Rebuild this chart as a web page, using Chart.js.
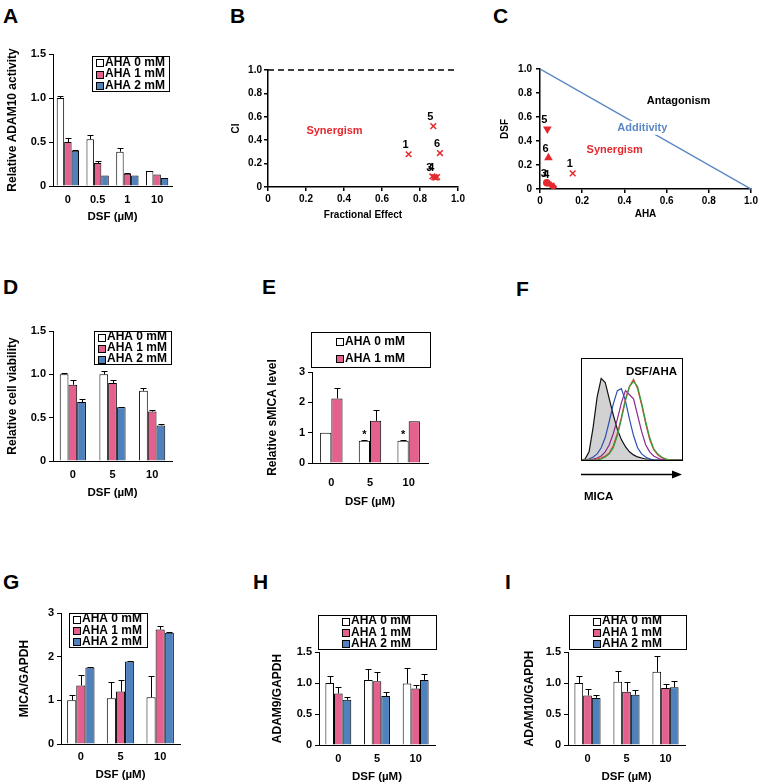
<!DOCTYPE html>
<html>
<head>
<meta charset="utf-8">
<script src="https://cdn.jsdelivr.net/npm/chart.js@4.4.1/dist/chart.umd.min.js"></script>
<style>
body { margin: 0; background: #fff; width: 760px; height: 784px; position: relative; overflow: hidden; }
canvas { position: absolute; }
.tag { position: absolute; font: bold 21px Arial, "Liberation Sans", sans-serif; line-height: 1; color: #000; }
</style>
</head>
<body>
<div class="tag" style="left:3px;top:5px">A</div>
<div class="tag" style="left:230px;top:5px">B</div>
<div class="tag" style="left:493px;top:5px">C</div>
<div class="tag" style="left:3px;top:276px">D</div>
<div class="tag" style="left:262px;top:276px">E</div>
<div class="tag" style="left:516px;top:278px">F</div>
<div class="tag" style="left:3px;top:571px">G</div>
<div class="tag" style="left:253px;top:571px">H</div>
<div class="tag" style="left:505px;top:571px">I</div>
<script>
// ---- data ----
const ahaLabels = ["AHA 0 mM", "AHA 1 mM", "AHA 2 mM"];

// A: ADAM10 activity
const dsfA = ["0", "0.5", "1", "10"];
const actAha0 = [1.0, 0.53, 0.39, 0.17];
const actAha0Err = [0.02, 0.05, 0.04, 0];
const actAha1 = [0.50, 0.26, 0.14, 0.13];
const actAha1Err = [0.05, 0.02, 0.01, 0];
const actAha2 = [0.40, 0.12, 0.12, 0.09];
const actAha2Err = [0.01, 0, 0, 0];

// B: combination index vs fractional effect
const ciFa = [0.74, 0.87, 0.905, 0.865, 0.875, 0.882, 0.89];
const ciVal = [0.28, 0.52, 0.29, 0.09, 0.085, 0.08, 0.085];
const ciTags = ["1", "5", "6", "3", "4", "", ""];
const ciRefX = [0, 1];
const ciRefY = [1, 1];

// C: isobologram
const isoAha = [0.155, 0.035, 0.04, 0.032, 0.044, 0.057, 0.063];
const isoDsf = [0.13, 0.50, 0.26, 0.053, 0.042, 0.031, 0.019];
const isoTags = ["1", "5", "6", "3", "4", "", ""];
const isoLineX = [0, 1];
const isoLineY = [1, 0];

// D: cell viability
const dsfD = ["0", "5", "10"];
const viaAha0 = [1.0, 1.0, 0.81];
const viaAha0Err = [0.01, 0.04, 0.03];
const viaAha1 = [0.88, 0.90, 0.57];
const viaAha1Err = [0.06, 0.04, 0.02];
const viaAha2 = [0.68, 0.62, 0.41];
const viaAha2Err = [0.03, 0.005, 0.02];

// E: soluble MICA
const smicaAha0 = [1.0, 0.73, 0.73];
const smicaAha0Err = [0, 0.03, 0.02];
const smicaAha0Marks = ["", "*", "*"];
const smicaAha1 = [2.13, 1.39, 1.38];
const smicaAha1Err = [0.33, 0.37, 0];

// F: flow histograms (MICA fluorescence, % of max)
const flowBins = [0, 4, 8, 12, 16, 20, 24, 28, 32, 36, 40, 44, 48, 52, 56, 60, 64, 68, 72, 76, 80, 84, 88, 92, 96, 100];
const histGray = [0, 1, 8, 32, 62, 80, 76, 60, 44, 30, 20, 13, 8, 5, 3, 2, 1, 1, 0, 0, 0, 0, 0, 0, 0, 0];
const histBlue = [0, 0, 1, 3, 6, 12, 22, 38, 55, 68, 70, 58, 40, 24, 12, 6, 3, 1, 0, 0, 0, 0, 0, 0, 0, 0];
const histPurple = [0, 0, 0, 1, 2, 4, 8, 15, 26, 40, 56, 68, 64, 60, 44, 28, 15, 8, 4, 2, 0, 0, 0, 0, 0, 0];
const histRed = [0, 0, 0, 0, 1, 2, 4, 7, 14, 26, 42, 60, 72, 79, 70, 54, 36, 20, 10, 5, 2, 1, 0, 0, 0, 0];
const histGreen = [0, 0, 0, 0, 0, 1, 3, 6, 12, 24, 40, 58, 72, 77, 72, 56, 38, 22, 11, 6, 3, 1, 0, 0, 0, 0];

// G/H/I: qPCR
const dsfQ = ["0", "5", "10"];
const micaAha0 = [1.0, 1.05, 1.07];
const micaAha0Err = [0.12, 0.37, 0.48];
const micaAha1 = [1.34, 1.20, 2.62];
const micaAha1Err = [0.23, 0.26, 0.09];
const micaAha2 = [1.75, 1.89, 2.55];
const micaAha2Err = [0.01, 0.005, 0.005];

const adam9Aha0 = [1.0, 1.05, 0.99];
const adam9Aha0Err = [0.12, 0.18, 0.25];
const adam9Aha1 = [0.83, 1.03, 0.91];
const adam9Aha1Err = [0.10, 0.15, 0.05];
const adam9Aha2 = [0.73, 0.79, 1.05];
const adam9Aha2Err = [0.05, 0.07, 0.09];

const adam10Aha0 = [1.0, 1.02, 1.18];
const adam10Aha0Err = [0.12, 0.18, 0.25];
const adam10Aha1 = [0.80, 0.86, 0.92];
const adam10Aha1Err = [0.11, 0.15, 0.06];
const adam10Aha2 = [0.76, 0.81, 0.93];
const adam10Aha2Err = [0.05, 0.08, 0.10];

// ---- styling ----
const FONT = 'Arial, "Liberation Sans", sans-serif';
const PINK = "#e3608f";
const BLUE = "#4f81bd";
const RED = "#e5282e";
const barColors = ["#ffffff", PINK, BLUE];

Chart.defaults.font.family = FONT;
Chart.defaults.font.weight = "bold";
Chart.defaults.font.size = 11;
Chart.defaults.color = "#000";
Chart.defaults.animation = false;
Chart.defaults.responsive = false;
Chart.defaults.plugins.legend.display = false;
Chart.defaults.plugins.tooltip.enabled = false;

function cvs(left, top, w, h) {
    const c = document.createElement("canvas");
    c.width = w;
    c.height = h;
    c.style.left = left + "px";
    c.style.top = top + "px";
    document.body.appendChild(c);
    return c;
}

// upper error bars + significance marks
const errorBars = {
    id: "errorBars",
    afterDatasetsDraw(chart) {
        const ctx = chart.ctx;
        const y = chart.scales.y;
        chart.data.datasets.forEach((ds, i) => {
            chart.getDatasetMeta(i).data.forEach((bar, j) => {
                const x = Math.round(bar.x) + 0.5;
                const e = ds.errors ? ds.errors[j] : 0;
                const top = y.getPixelForValue(ds.data[j] + (e || 0));
                ctx.save();
                ctx.strokeStyle = "#000";
                ctx.lineWidth = 1;
                if (e) {
                    ctx.beginPath();
                    ctx.moveTo(x, bar.y);
                    ctx.lineTo(x, Math.round(top) + 0.5);
                    ctx.moveTo(x - 3, Math.round(top) + 0.5);
                    ctx.lineTo(x + 3, Math.round(top) + 0.5);
                    ctx.stroke();
                }
                if (ds.marks && ds.marks[j]) {
                    ctx.fillStyle = "#000";
                    ctx.font = "bold 11px " + FONT;
                    ctx.textAlign = "center";
                    ctx.textBaseline = "middle";
                    ctx.fillText(ds.marks[j], bar.x, top - 5);
                }
                ctx.restore();
            });
        });
    }
};

// framed legend like the spreadsheet ones
const boxLegend = {
    id: "boxLegend",
    afterDraw(chart, args, o) {
        if (!o.w) return;
        const ctx = chart.ctx;
        const ds = chart.data.datasets;
        ctx.save();
        ctx.fillStyle = "#fff";
        ctx.fillRect(o.x, o.y, o.w, o.h);
        ctx.strokeStyle = "#000";
        ctx.lineWidth = 1;
        ctx.strokeRect(o.x + 0.5, o.y + 0.5, o.w, o.h);
        ctx.font = "bold 12px " + FONT;
        ctx.textBaseline = "middle";
        const rowH = o.h / ds.length;
        ds.forEach((d, i) => {
            const tw = ctx.measureText(d.label).width;
            const itemW = 7 + 2 + tw;
            const x0 = Math.round(o.x + (o.w - itemW) / 2);
            const cy = o.y + rowH * (i + 0.5) + 0.5;
            ctx.fillStyle = d.backgroundColor;
            ctx.fillRect(x0 + 0.5, Math.round(cy - 3.5) + 0.5, 7, 7);
            ctx.strokeRect(x0 + 0.5, Math.round(cy - 3.5) + 0.5, 7, 7);
            ctx.fillStyle = "#000";
            ctx.fillText(d.label, x0 + 9, cy);
        });
        ctx.restore();
    }
};

// point numbers in B and C
const pointTags = {
    id: "pointTags",
    afterDatasetsDraw(chart) {
        const ctx = chart.ctx;
        chart.data.datasets.forEach((ds, i) => {
            if (!ds.tags) return;
            ctx.save();
            ctx.font = "bold 11px " + FONT;
            ctx.fillStyle = "#000";
            ctx.textAlign = "center";
            ctx.textBaseline = "middle";
            chart.getDatasetMeta(i).data.forEach((pt, j) => {
                if (ds.tags[j]) ctx.fillText(ds.tags[j], pt.x - 3, pt.y - 9);
            });
            ctx.restore();
        });
    }
};

// free text placed in data units
const notes = {
    id: "notes",
    afterDatasetsDraw(chart, args, o) {
        if (!o.items) return;
        const { ctx, scales } = chart;
        ctx.save();
        ctx.font = "bold 11px " + FONT;
        ctx.textAlign = "center";
        ctx.textBaseline = "middle";
        o.items.forEach(n => {
            const px = scales.x.getPixelForValue(n.x);
            const py = scales.y.getPixelForValue(n.y);
            if (n.knockout) {
                const w = ctx.measureText(n.text).width;
                ctx.fillStyle = "#fff";
                ctx.fillRect(px - w / 2 - 3, py - 7, w + 6, 14);
            }
            ctx.fillStyle = n.color;
            ctx.fillText(n.text, px, py);
        });
        ctx.restore();
    }
};

function series(data, errs, marks) {
    return { data, errs, marks };
}

function barPanel(c, o) {
    return new Chart(c, {
        type: "bar",
        data: {
            labels: o.labels,
            datasets: o.series.map((s, i) => ({
                label: ahaLabels[i],
                data: s.data,
                errors: s.errs,
                marks: s.marks,
                backgroundColor: barColors[i],
                borderColor: "#000",
                borderWidth: 1,
                categoryPercentage: o.groupW,
                barPercentage: 1
            }))
        },
        options: {
            layout: { padding: { top: o.padTop, right: o.padRight, left: 0, bottom: 0 } },
            scales: {
                x: {
                    grid: { display: false, drawTicks: false, tickLength: 0 },
                    border: { color: "#000" },
                    ticks: { padding: o.xTickPad, font: { size: 11 } },
                    title: { display: true, text: "DSF (µM)", font: { size: 11.5 }, padding: { top: 0, bottom: o.xTitlePad } },
                    afterFit: s => { s.height = o.xH; }
                },
                y: {
                    min: 0,
                    max: o.yMax,
                    ticks: { stepSize: o.step, padding: 3, font: { size: 11 } },
                    grid: { drawOnChartArea: false, color: "#000", tickLength: 4 },
                    border: { color: "#000" },
                    title: { display: true, text: o.yTitle, font: { size: 12 }, padding: { top: o.yTitlePad, bottom: 0 } },
                    afterFit: s => { s.width = o.yW; }
                }
            },
            plugins: { boxLegend: o.legend }
        },
        plugins: [errorBars, boxLegend]
    });
}

const fmt1 = v => (v === 0 ? "0" : v.toFixed(1));

function prismScales(xTitle, yTitle, yW, xH, yTitlePad, xTitlePad, yTickPad) {
    const axis = { drawOnChartArea: false, color: "#000", tickLength: 4, lineWidth: 1.5 };
    return {
        x: {
            type: "linear", min: 0, max: 1,
            ticks: { stepSize: 0.2, padding: 2, font: { size: 10 }, callback: fmt1 },
            grid: axis,
            border: { color: "#000", width: 1.5 },
            title: { display: true, text: xTitle, font: { size: 10 }, padding: { top: 0, bottom: xTitlePad } },
            afterFit: s => { s.height = xH; }
        },
        y: {
            type: "linear", min: 0, max: 1,
            ticks: { stepSize: 0.2, padding: yTickPad, font: { size: 10 }, callback: fmt1 },
            grid: axis,
            border: { color: "#000", width: 1.5 },
            title: { display: true, text: yTitle, font: { size: 10 }, padding: { top: yTitlePad, bottom: 0 } },
            afterFit: s => { s.width = yW; }
        }
    };
}

// ---- A ----
barPanel(cvs(0, 40, 182, 190), {
    labels: dsfA,
    series: [series(actAha0, actAha0Err), series(actAha1, actAha1Err), series(actAha2, actAha2Err)],
    groupW: 0.75, yMax: 1.5, step: 0.5,
    yTitle: "Relative ADAM10 activity",
    padTop: 14, padRight: 10, yW: 53, xH: 44,
    yTitlePad: 5.8, xTitlePad: 6.6, xTickPad: 7,
    legend: { x: 92, y: 16, w: 77, h: 35 }
});

// ---- B ----
new Chart(cvs(225, 50, 245, 180), {
    type: "scatter",
    data: {
        datasets: [
            {
                type: "line",
                data: ciRefX.map((v, i) => ({ x: v, y: ciRefY[i] })),
                borderColor: "#000", borderWidth: 1.5, borderDash: [6, 4],
                pointRadius: 0, clip: false
            },
            {
                data: ciFa.map((v, i) => ({ x: v, y: ciVal[i] })),
                tags: ciTags,
                pointStyle: "crossRot", pointRadius: 4,
                borderColor: RED, backgroundColor: RED, borderWidth: 1.5
            }
        ]
    },
    options: {
        layout: { padding: { top: 20, right: 12, left: 0, bottom: 0 } },
        scales: prismScales("Fractional Effect", "CI", 43, 43, 5, 9, 2),
        plugins: { notes: { items: [{ text: "Synergism", x: 0.35, y: 0.48, color: RED }] } }
    },
    plugins: [pointTags, notes]
});

// ---- C ----
new Chart(cvs(490, 50, 270, 180), {
    type: "scatter",
    data: {
        datasets: [
            {
                type: "line",
                data: isoLineX.map((v, i) => ({ x: v, y: isoLineY[i] })),
                borderColor: "#5b87c5", borderWidth: 1.5, pointRadius: 0
            },
            {
                data: isoAha.map((v, i) => ({ x: v, y: isoDsf[i] })),
                tags: isoTags,
                pointStyle: ["crossRot", "triangle", "triangle", "circle", "rect", "rect", "rectRot"],
                rotation: [0, 180, 0, 0, 0, 0, 0],
                pointRadius: [4, 3.5, 3.5, 3, 2.5, 2.5, 3],
                borderColor: RED, backgroundColor: RED, borderWidth: 1.5
            }
        ]
    },
    options: {
        layout: { padding: { top: 19, right: 9, left: 0, bottom: 0 } },
        scales: prismScales("AHA", "DSF", 50, 41, 9, 10, 4),
        plugins: {
            notes: {
                items: [
                    { text: "Antagonism", x: 0.657, y: 0.73, color: "#000" },
                    { text: "Additivity", x: 0.485, y: 0.51, color: "#5b87c5", knockout: true },
                    { text: "Synergism", x: 0.354, y: 0.325, color: RED }
                ]
            }
        }
    },
    plugins: [pointTags, notes]
});

// ---- D ----
barPanel(cvs(0, 315, 182, 190), {
    labels: dsfD,
    series: [series(viaAha0, viaAha0Err), series(viaAha1, viaAha1Err), series(viaAha2, viaAha2Err)],
    groupW: 0.66, yMax: 1.5, step: 0.5,
    yTitle: "Relative cell viability",
    padTop: 16, padRight: 10, yW: 53, xH: 44,
    yTitlePad: 5.8, xTitlePad: 5.1, xTickPad: 7,
    legend: { x: 94, y: 16, w: 77, h: 33 }
});

// ---- E ----
barPanel(cvs(262, 320, 180, 190), {
    labels: dsfD,
    series: [series(smicaAha0, smicaAha0Err, smicaAha0Marks), series(smicaAha1, smicaAha1Err)],
    groupW: 0.58, yMax: 3, step: 1,
    yTitle: "Relative sMICA level",
    padTop: 52, padRight: 14, yW: 50, xH: 47,
    yTitlePad: 3.8, xTitlePad: 1.1, xTickPad: 13,
    legend: { x: 49, y: 12, w: 119, h: 35 }
});

// ---- F ----
const flowFrame = {
    id: "flowFrame",
    afterDraw(chart) {
        const { ctx, chartArea: a } = chart;
        ctx.save();
        ctx.strokeStyle = "#000";
        ctx.fillStyle = "#000";
        ctx.lineWidth = 1;
        ctx.strokeRect(a.left + 0.5, a.top + 0.5, a.right - a.left, a.bottom - a.top);
        ctx.font = "bold 11.5px " + FONT;
        ctx.textAlign = "right";
        ctx.textBaseline = "middle";
        ctx.fillText("DSF/AHA", a.right - 5, a.top + 14);
        const ay = a.bottom + 14.5;
        ctx.lineWidth = 1.5;
        ctx.beginPath();
        ctx.moveTo(a.left, ay);
        ctx.lineTo(a.right - 6, ay);
        ctx.stroke();
        ctx.beginPath();
        ctx.moveTo(a.right, ay);
        ctx.lineTo(a.right - 10, ay - 4);
        ctx.lineTo(a.right - 10, ay + 4);
        ctx.closePath();
        ctx.fill();
        ctx.textAlign = "left";
        ctx.fillText("MICA", a.left + 3, a.bottom + 37);
        ctx.restore();
    }
};

function hist(data, color, extra) {
    return Object.assign({
        data: flowBins.map((v, i) => ({ x: v, y: data[i] })),
        borderColor: color, borderWidth: 1.2, pointRadius: 0, tension: 0, fill: false
    }, extra || {});
}

new Chart(cvs(560, 340, 140, 170), {
    type: "line",
    data: {
        datasets: [
            hist(histGreen, "#2e9e3e", { order: 1 }),
            hist(histRed, "#e03a2a", { order: 2 }),
            hist(histPurple, "#8a2a90", { order: 3 }),
            hist(histBlue, "#2f4fb0", { order: 4 }),
            hist(histGray, "#111", { order: 5, fill: "origin", backgroundColor: "#d2d2d2" })
        ]
    },
    options: {
        layout: { padding: { top: 18, right: 18, left: 21, bottom: 50 } },
        scales: {
            x: { type: "linear", min: 0, max: 100, display: false },
            y: { min: 0, max: 100, display: false }
        }
    },
    plugins: [flowFrame]
});

// ---- G ----
barPanel(cvs(0, 595, 190, 189), {
    labels: dsfQ,
    series: [series(micaAha0, micaAha0Err), series(micaAha1, micaAha1Err), series(micaAha2, micaAha2Err)],
    groupW: 0.69, yMax: 3, step: 1,
    yTitle: "MICA/GAPDH",
    padTop: 18, padRight: 10, yW: 61, xH: 40,
    yTitlePad: 17.8, xTitlePad: 2.6, xTickPad: 6,
    legend: { x: 69, y: 18, w: 78, h: 34 }
});

// ---- H ----
barPanel(cvs(255, 600, 190, 184), {
    labels: dsfQ,
    series: [series(adam9Aha0, adam9Aha0Err), series(adam9Aha1, adam9Aha1Err), series(adam9Aha2, adam9Aha2Err)],
    groupW: 0.67, yMax: 1.5, step: 0.5,
    yTitle: "ADAM9/GAPDH",
    padTop: 52, padRight: 10, yW: 64, xH: 39,
    yTitlePad: 15.8, xTitlePad: 0.5, xTickPad: 7,
    legend: { x: 63, y: 15, w: 118, h: 34 }
});

// ---- I ----
barPanel(cvs(505, 600, 190, 184), {
    labels: dsfQ,
    series: [series(adam10Aha0, adam10Aha0Err), series(adam10Aha1, adam10Aha1Err), series(adam10Aha2, adam10Aha2Err)],
    groupW: 0.67, yMax: 1.5, step: 0.5,
    yTitle: "ADAM10/GAPDH",
    padTop: 52, padRight: 10, yW: 63, xH: 39,
    yTitlePad: 17.8, xTitlePad: 0.5, xTickPad: 7,
    legend: { x: 64, y: 15, w: 117, h: 34 }
});
</script>
</body>
</html>
